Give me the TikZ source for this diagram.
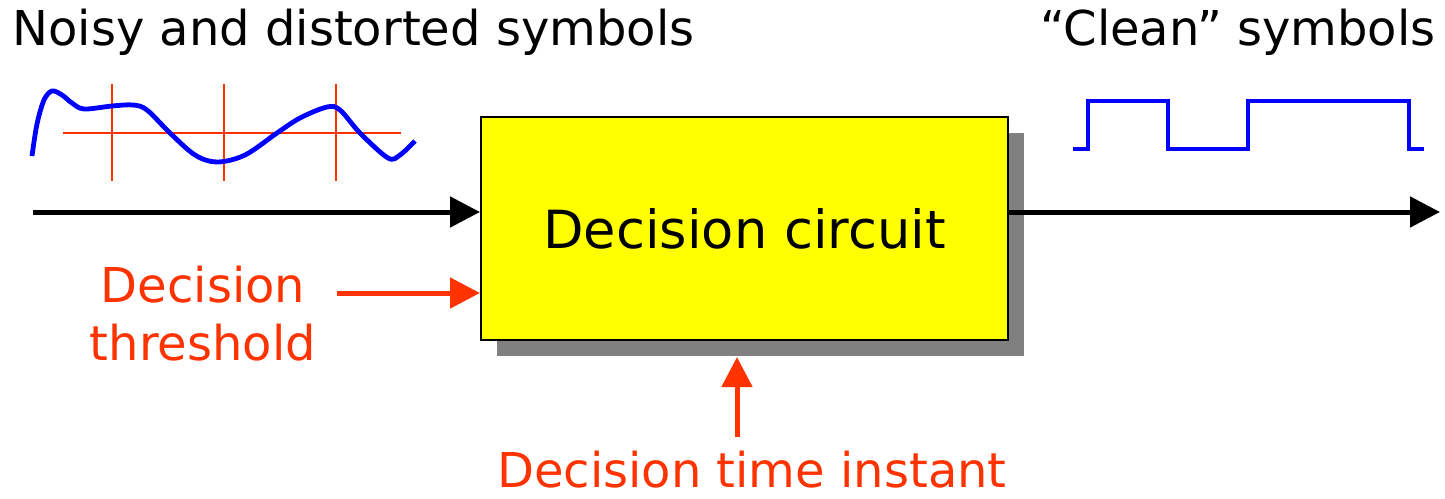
\documentclass[tikz,border=0pt]{standalone}
\usepackage{fontspec}
\setmainfont{DejaVu Sans}
\usetikzlibrary{arrows.meta,shadows}
\definecolor{myred}{RGB}{255,51,0}
\definecolor{myblue}{RGB}{0,0,255}
\definecolor{myyellow}{RGB}{255,255,0}
\definecolor{shadowgray}{RGB}{128,128,128}
\tikzset{
  lbl/.style={inner sep=0pt, anchor=base, font=\fontsize{24pt}{29pt}\selectfont},
  redlbl/.style={lbl, text=myred},
  conn/.style={line width=2.5pt, -{Triangle[length=15pt,width=15pt]}},
  blackconn/.style={conn, draw=black},
  redconn/.style={conn, draw=myred},
  wave/.style={line width=2.4pt, myblue},
  grid/.style={line width=1pt, myred},
  decbox/.style={draw=black, line width=1pt, fill=myyellow, minimum width=263.5pt, minimum height=111.5pt, inner sep=0pt,
    font=\fontsize{26.3pt}{30pt}\selectfont,
    drop shadow={shadow xshift=8pt, shadow yshift=-8pt, fill=shadowgray, opacity=1}}
}
\begin{document}
\begin{tikzpicture}[x=0.5pt,y=-0.5pt]
\useasboundingbox (0,0) rectangle (1445,498);
% labels
\node[lbl, anchor=base west] (noisy) at (12,45) {Noisy and distorted symbols};
\node[lbl, anchor=base east] (clean) at (1436,45) {“Clean” symbols};
\node[redlbl, align=center] (thr) at (203,360) {Decision\\threshold};
\node[redlbl] (tim) at (752,487) {Decision time instant};
% box
\node[decbox] (box) at (744.5,228.5) {\raisebox{-2pt}{Decision circuit}};
% noisy waveform grid
\draw[grid] (63,133) -- (401,133);
\foreach \x in {112,224,336} \draw[grid] (\x,84) -- (\x,181);
\draw[wave] plot[smooth, tension=0.55] coordinates {(32,156) (37,124) (44,100) (52,91) (62,95) (72,103) (84,109) (112,106) (133,105) (147,110) (170,133) (195,155) (217,162) (245,155) (277,133) (300,118) (327,107) (340,110) (360,133) (388,158) (400,155) (415,141)};
% clean waveform
\draw[wave, line join=miter] (1073,149) -- (1088,149) -- (1088,101) -- (1168,101) -- (1168,149) -- (1248,149) -- (1248,101) -- (1409,101) -- (1409,149) -- (1424,149);
% connectors
\coordinate (in) at (33,212);
\coordinate (out) at (1440,212);
\coordinate (thrs) at (337,293);
\coordinate (tims) at (737,437);
\coordinate (time) at (737,357);
\draw[blackconn] (in) -- (in -| box.west);
\draw[blackconn] (out -| box.east) -- (out);
\draw[redconn] (thrs) -- (thrs -| box.west);
\draw[redconn] (tims) -- (time);
\end{tikzpicture}
\end{document}
